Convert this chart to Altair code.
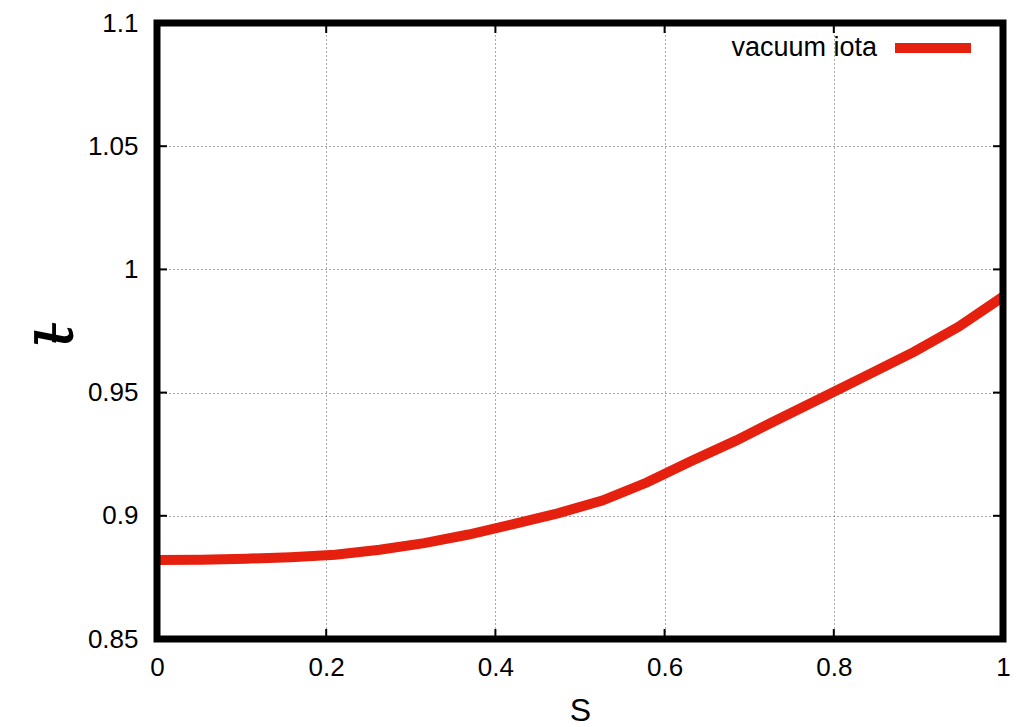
import altair as alt
import pandas as pd

# ---- data ----
s_values = [0.0, 0.0526, 0.1053, 0.1579, 0.2105, 0.2632, 0.3158, 0.3684, 0.4211, 0.4737,
            0.5263, 0.5789, 0.6316, 0.6842, 0.7368, 0.7895, 0.8421, 0.8947, 0.9474, 1.0]
iota_values = [0.8821, 0.8822, 0.8826, 0.8832, 0.8842, 0.8862, 0.8889, 0.8924, 0.8966, 0.9010,
               0.9062, 0.9135, 0.9222, 0.9305, 0.9396, 0.9485, 0.9575, 0.9665, 0.9767, 0.9889]
x_ticks = [0, 0.2, 0.4, 0.6, 0.8, 1.0]
y_ticks = [0.85, 0.9, 0.95, 1.0, 1.05, 1.1]
series_name = "vacuum iota"

W, H = 846, 616
FONT = "Liberation Sans"
RED = "#e5200f"
TICK = 10

df = pd.DataFrame({"s": s_values, "iota": iota_values})
xt = pd.DataFrame({"t": x_ticks})
yt = pd.DataFrame({"t": y_ticks})

xscale = alt.Scale(domain=[0, 1], nice=False, zero=False)
yscale = alt.Scale(domain=[0.85, 1.1], nice=False, zero=False)

x_axis = alt.Axis(values=x_ticks, format="~g", grid=True, ticks=False, tickSize=0, domain=False,
                  labelFontSize=26, labelFont=FONT, labelColor="black", labelPadding=15,
                  labelFlush=False, labelOverlap=False,
                  gridDash=[1, 3], gridColor="#555", gridWidth=1,
                  title="S", titleFont=FONT, titleFontSize=32, titleFontWeight="normal",
                  titleColor="black", titleY=81, titleBaseline="alphabetic")
y_axis = alt.Axis(values=y_ticks, format="~g", grid=True, ticks=False, tickSize=0, domain=False,
                  labelFontSize=26, labelFont=FONT, labelColor="black", labelPadding=19,
                  labelFlush=False, labelOverlap=False,
                  gridDash=[1, 3], gridColor="#555", gridWidth=1,
                  title="ι\u0335", titleFont="DejaVu Serif", titleFontSize=74,
                  titleFontWeight="normal", titleFontStyle="italic", titleColor="black",
                  titleX=-107, titleY=312, titleAngle=270, titleAlign="center",
                  titleBaseline="middle")

line = alt.Chart(df).mark_line(color=RED, strokeWidth=10, strokeCap="butt").encode(
    x=alt.X("s:Q", scale=xscale, axis=x_axis),
    y=alt.Y("iota:Q", scale=yscale, axis=y_axis),
)

# inward ticks on all four sides (gnuplot style)
bt = alt.Chart(xt).mark_rule(color="black", strokeWidth=2).encode(
    x=alt.X("t:Q", scale=xscale), y=alt.value(H), y2=alt.value(H - TICK))
tt = alt.Chart(xt).mark_rule(color="black", strokeWidth=2).encode(
    x=alt.X("t:Q", scale=xscale), y=alt.value(0), y2=alt.value(TICK))
lt = alt.Chart(yt).mark_rule(color="black", strokeWidth=2).encode(
    y=alt.Y("t:Q", scale=yscale), x=alt.value(0), x2=alt.value(TICK))
rt = alt.Chart(yt).mark_rule(color="black", strokeWidth=2).encode(
    y=alt.Y("t:Q", scale=yscale), x=alt.value(W), x2=alt.value(W - TICK))

border = alt.Chart(pd.DataFrame({"a": [0]})).mark_rect(
    fill=None, stroke="black", strokeWidth=7, filled=False).encode(
    x=alt.value(0), x2=alt.value(W), y=alt.value(0), y2=alt.value(H))

leg_df = pd.DataFrame({"name": [series_name]})
leg_text = alt.Chart(leg_df).mark_text(
    align="right", baseline="middle", font=FONT, fontSize=27, color="black").encode(
    text="name:N", x=alt.value(720), y=alt.value(25))
leg_line = alt.Chart(leg_df).mark_rule(color=RED, strokeWidth=10).encode(
    x=alt.value(738), x2=alt.value(814), y=alt.value(25))

chart = alt.layer(line, bt, tt, lt, rt, border, leg_text, leg_line).properties(
    width=W, height=H,
    autosize=alt.AutoSizeParams(type="none"),
    padding={"left": 157, "top": 23, "right": 20, "bottom": 88},
).configure_view(strokeWidth=0).configure(background="white")

chart.save("out.html", embed_options={"renderer": "svg", "actions": False})
